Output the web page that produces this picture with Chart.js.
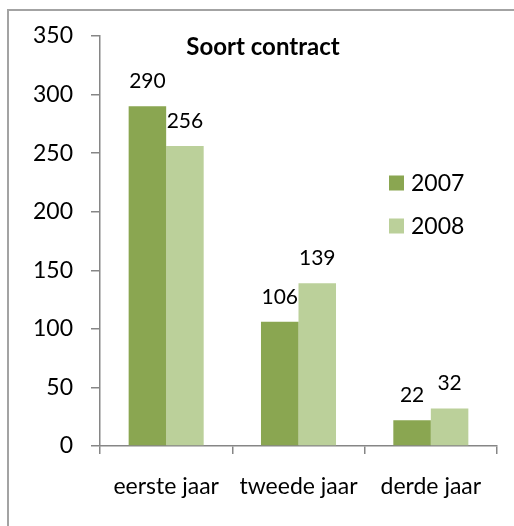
<!DOCTYPE html>
<html><head><meta charset="utf-8">
<script src="https://cdn.jsdelivr.net/npm/chart.js@4"></script>
<style>html,body{margin:0;padding:0;background:#fff}#wrap{width:514px;height:526px;position:relative}</style>
</head><body><div id="wrap"><canvas id="c" width="514" height="526"></canvas></div>
<script>
const categories = ['eerste jaar', 'tweede jaar', 'derde jaar'];
const seriesNames = ['2007', '2008'];
const values2007 = [290, 106, 22];
const values2008 = [256, 139, 32];
const yTicks = [0, 50, 100, 150, 200, 250, 300, 350];
const chartTitle = 'Soort contract';
const seriesColors = ['#8AA651', '#BBD09A'];

const FONT = 'Lato, "Liberation Sans", sans-serif';

const framePlugin = {
  id: 'frame',
  beforeDraw(chart) {
    const ctx = chart.ctx;
    ctx.save();
    ctx.fillStyle = '#fff';
    ctx.fillRect(0, 0, chart.width, chart.height);
    ctx.strokeStyle = '#a3a3a3';
    ctx.lineWidth = 2;
    ctx.beginPath();
    ctx.moveTo(8, chart.height);
    ctx.lineTo(8, 10);
    ctx.lineTo(chart.width, 10);
    ctx.stroke();
    ctx.restore();
  }
};

const overlayPlugin = {
  id: 'overlay',
  afterDatasetsDraw(chart) {
    const ctx = chart.ctx;
    const area = chart.chartArea;
    ctx.save();
    // data labels
    ctx.fillStyle = '#000';
    ctx.font = '21px ' + FONT;
    ctx.textAlign = 'center';
    ctx.textBaseline = 'middle';
    chart.data.datasets.forEach((ds, i) => {
      chart.getDatasetMeta(i).data.forEach((el, j) => {
        ctx.fillText(String(ds.data[j]), el.x, el.y - 25);
      });
    });
    // title inside plot area
    ctx.font = 'bold 24px ' + FONT;
    ctx.fillText(chartTitle, area.left + 163, area.top + 11);
    // legend inside plot area
    ctx.font = '23px ' + FONT;
    ctx.textAlign = 'left';
    chart.data.datasets.forEach((ds, i) => {
      const cy = area.top + 147 + i * 43;
      ctx.fillStyle = ds.backgroundColor;
      ctx.fillRect(area.left + 289, cy - 7.5, 15, 15);
      ctx.fillStyle = '#000';
      ctx.fillText(ds.label, area.left + 311, cy + 1);
    });
    ctx.restore();
  }
};

new Chart(document.getElementById('c'), {
  type: 'bar',
  data: {
    labels: categories,
    datasets: [
      { label: seriesNames[0], data: values2007, backgroundColor: seriesColors[0] },
      { label: seriesNames[1], data: values2008, backgroundColor: seriesColors[1] }
    ]
  },
  options: {
    responsive: false,
    animation: false,
    devicePixelRatio: 1,
    categoryPercentage: 0.567,
    barPercentage: 1,
    layout: { padding: { left: 10, right: 17, top: 36, bottom: 0 } },
    plugins: {
      legend: { display: false },
      title: { display: false },
      tooltip: { enabled: false }
    },
    scales: {
      x: {
        afterFit(s) { s.height = 80; },
        border: { color: '#868686', width: 1.5 },
        grid: { drawOnChartArea: false, drawTicks: true, tickLength: 8, color: '#868686', lineWidth: 1.5, offset: true },
        ticks: { color: '#000', font: { family: FONT, size: 23 }, padding: 19, maxRotation: 0 }
      },
      y: {
        min: 0, max: 350,
        afterFit(s) { s.width = 90; },
        afterBuildTicks(s) { s.ticks = yTicks.map(v => ({ value: v })); },
        border: { color: '#868686', width: 1.5 },
        grid: { drawOnChartArea: false, drawTicks: true, tickLength: 9, color: '#868686', lineWidth: 1.5 },
        ticks: { color: '#000', font: { family: FONT, size: 23 }, padding: 18 }
      }
    }
  },
  plugins: [framePlugin, overlayPlugin]
});
</script>
</body></html>
